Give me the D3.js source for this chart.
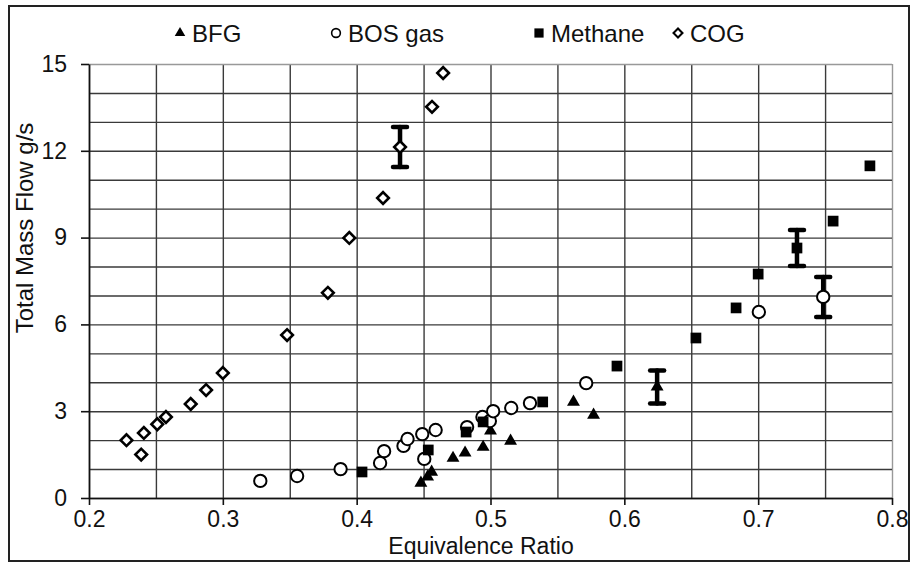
<!DOCTYPE html>
<html>
<head>
<meta charset="utf-8">
<script src="https://cdn.jsdelivr.net/npm/d3@7/dist/d3.min.js"></script>
<style>
  body { margin: 0; background: #fff; }
  text { font-family: "Liberation Sans", Arial, sans-serif; fill: #111; }
</style>
</head>
<body>
<script>
// data: [equivalence ratio, total mass flow g/s]
var bfg = [[0.448, 0.52], [0.453, 0.73], [0.456, 0.9], [0.472, 1.38], [0.481, 1.56],
  [0.4945, 1.76], [0.5, 2.32], [0.515, 1.97], [0.562, 3.32], [0.577, 2.87], [0.6245, 3.84]]

var bos = [[0.328, 0.59], [0.3555, 0.76], [0.388, 1.0], [0.4175, 1.21], [0.4205, 1.62],
  [0.435, 1.8], [0.438, 2.04], [0.449, 2.21], [0.459, 2.35], [0.4505, 1.35], [0.4825, 2.45],
  [0.494, 2.8], [0.4995, 2.66], [0.502, 3.0], [0.5155, 3.11], [0.5295, 3.28], [0.5715, 3.97],
  [0.7005, 6.43], [0.7486, 6.95]]

var methane = [[0.404, 0.9], [0.4535, 1.66], [0.4818, 2.28], [0.4945, 2.63], [0.539, 3.32],
  [0.5945, 4.56], [0.6535, 5.53], [0.6835, 6.57], [0.7, 7.74], [0.729, 8.64], [0.756, 9.57],
  [0.7835, 11.48]]

var cog = [[0.228, 2.0], [0.239, 1.5], [0.241, 2.25], [0.251, 2.55], [0.2575, 2.8],
  [0.276, 3.25], [0.2875, 3.73], [0.3, 4.32], [0.348, 5.63], [0.3785, 7.09], [0.3945, 8.99],
  [0.4197, 10.37], [0.4324, 12.13], [0.4563, 13.52], [0.4646, 14.69]]

// error bars: [x, y, +/-]
var errBars = [[0.4324, 12.13, 0.69], [0.6245, 3.84, 0.57], [0.729, 8.64, 0.62], [0.7486, 6.95, 0.69]]

var seriesNames = ['BFG', 'BOS gas', 'Methane', 'COG']
var xTicks = [0.2, 0.3, 0.4, 0.5, 0.6, 0.7, 0.8]
var yTicks = [0, 3, 6, 9, 12, 15]

var margin = { top: 64, right: 20, bottom: 67, left: 89 }
var width = 892 - margin.left
var height = 498 - margin.top

var svg = d3.select('body').append('svg')
  .attr('width', 912)
  .attr('height', 565)

// outer frame
svg.append('rect')
  .attr('x', 9).attr('y', 6).attr('width', 900).attr('height', 555)
  .attr('fill', 'none').attr('stroke', '#222').attr('stroke-width', 2)

var g = svg.append('g')
  .attr('transform', 'translate(' + margin.left + ',' + margin.top + ')')

var x = d3.scaleLinear().domain([0.2, 0.8]).range([0, width])
var y = d3.scaleLinear().domain([0, 15]).range([height, 0])

// grid
g.append('g')
  .attr('class', 'grid-x')
  .attr('transform', 'translate(0,' + height + ')')
  .call(d3.axisBottom(x)
    .tickValues(d3.range(0, 13).map(function (i) { return 0.2 + i * 0.05 }))
    .tickSize(-height)
    .tickSizeOuter(0)
    .tickFormat(function () { return null }))
  .call(function (s) { s.select('.domain').remove() })
  .selectAll('line')
  .attr('stroke', function (d, i) { return i === 12 ? '#999' : '#3a3a3a' })
  .attr('stroke-width', 1.4)

g.append('g')
  .attr('class', 'grid-y')
  .call(d3.axisLeft(y)
    .tickValues(d3.range(0, 16))
    .tickSize(-width)
    .tickSizeOuter(0)
    .tickFormat(function () { return null }))
  .call(function (s) { s.select('.domain').remove() })
  .selectAll('line')
  .attr('stroke', function (d) { return d === 15 ? '#999' : '#3a3a3a' })
  .attr('stroke-width', 1.4)

// axes
var xAxis = g.append('g')
  .attr('transform', 'translate(0,' + height + ')')
  .call(d3.axisBottom(x)
    .tickValues(xTicks)
    .tickSize(7)
    .tickSizeOuter(0)
    .tickPadding(6)
    .tickFormat(d3.format('.1f')))
xAxis.selectAll('line, path').attr('stroke', '#111').attr('stroke-width', 1.6)
xAxis.selectAll('text').attr('font-size', 23).attr('fill', '#111')

var yAxis = g.append('g')
  .call(d3.axisLeft(y)
    .tickValues(yTicks)
    .tickSize(8)
    .tickSizeOuter(0)
    .tickPadding(14))
yAxis.selectAll('line, path').attr('stroke', '#111').attr('stroke-width', 1.6)
yAxis.selectAll('text').attr('font-size', 23).attr('fill', '#111')

// axis titles
svg.append('text')
  .attr('x', 481).attr('y', 554)
  .attr('text-anchor', 'middle')
  .attr('font-size', 23)
  .text('Equivalence Ratio')

svg.append('text')
  .attr('transform', 'translate(33,228) rotate(-90)')
  .attr('text-anchor', 'middle')
  .attr('font-size', 24)
  .text('Total Mass Flow g/s')

// error bars go under the markers
var eb = g.append('g').selectAll('g').data(errBars).enter().append('g')
  .attr('stroke', '#000').attr('stroke-width', 4.5).attr('stroke-linecap', 'round')
eb.append('line')
  .attr('x1', function (d) { return x(d[0]) }).attr('x2', function (d) { return x(d[0]) })
  .attr('y1', function (d) { return y(d[1] + d[2]) }).attr('y2', function (d) { return y(d[1] - d[2]) })
eb.selectAll('.cap').data(function (d) { return [[d[0], d[1] + d[2]], [d[0], d[1] - d[2]]] })
  .enter().append('line')
  .attr('class', 'cap')
  .attr('x1', function (d) { return x(d[0]) - 7 }).attr('x2', function (d) { return x(d[0]) + 7 })
  .attr('y1', function (d) { return y(d[1]) }).attr('y2', function (d) { return y(d[1]) })

var markers = {
  'BFG': { sym: d3.symbolTriangle, size: 72, legendSize: 48, fill: '#000', stroke: 'none', sw: 0, rot: 0 },
  'BOS gas': { sym: d3.symbolCircle, size: 120, legendSize: 60, fill: '#fff', stroke: '#000', sw: 2, rot: 0 },
  'Methane': { sym: d3.symbolSquare, size: 115, legendSize: 85, fill: '#000', stroke: 'none', sw: 0, rot: 0 },
  'COG': { sym: d3.symbolSquare, size: 68, legendSize: 40, fill: '#fff', stroke: '#000', sw: 2.6, rot: 45 }
}
var seriesData = { 'BFG': bfg, 'BOS gas': bos, 'Methane': methane, 'COG': cog }

seriesNames.forEach(function (name) {
  var m = markers[name]
  g.append('g').selectAll('path').data(seriesData[name]).enter().append('path')
    .attr('d', d3.symbol().type(m.sym).size(m.size))
    .attr('transform', function (d) { return 'translate(' + x(d[0]) + ',' + y(d[1]) + ') rotate(' + m.rot + ')' })
    .attr('fill', m.fill)
    .attr('stroke', m.stroke)
    .attr('stroke-width', m.sw)
})

// legend
var legendX = [180, 336, 539, 678]
var legend = svg.append('g').selectAll('g').data(seriesNames).enter().append('g')
  .attr('transform', function (d, i) { return 'translate(' + legendX[i] + ',33)' })
legend.append('path')
  .attr('d', function (d) { return d3.symbol().type(markers[d].sym).size(markers[d].legendSize)() })
  .attr('transform', function (d) { return 'rotate(' + markers[d].rot + ')' })
  .attr('fill', function (d) { return markers[d].fill })
  .attr('stroke', function (d) { return markers[d].stroke })
  .attr('stroke-width', function (d) { return markers[d].sw * 0.8 })
legend.append('text')
  .attr('x', 12).attr('y', 9)
  .attr('font-size', 24)
  .text(function (d) { return d })
</script>
</body>
</html>
